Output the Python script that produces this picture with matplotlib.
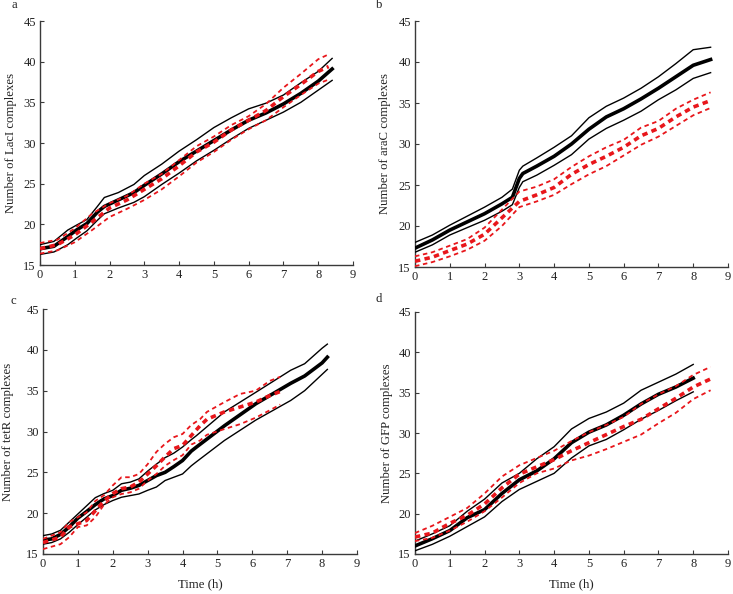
import numpy as np
import matplotlib
matplotlib.use("Agg")
import matplotlib.pyplot as plt

plt.rcParams['font.family'] = ['Liberation Serif', 'DejaVu Serif']

# ---------------- data ----------------
# Panel a: LacI
a_t_black = [0, 0.4, 0.8, 1.05, 1.35, 1.65, 1.85, 2.25, 2.7, 3.0, 3.5, 4, 4.5, 5, 5.5, 6, 6.5, 7, 7.5, 8, 8.4]
a_black_mean = [17.0, 17.3, 18.5, 19.3, 20.1, 21.5, 22.2, 23.0, 23.9, 24.8, 26.2, 27.7, 29.0, 30.3, 31.6, 32.8, 33.7, 34.8, 36.1, 37.6, 39.1]
a_black_up = [17.5, 17.9, 19.3, 19.9, 20.6, 22.2, 23.3, 23.9, 24.9, 26.0, 27.4, 29.0, 30.4, 31.9, 33.1, 34.2, 34.9, 35.9, 37.4, 38.8, 40.4]
a_black_lo = [16.3, 16.6, 17.5, 18.3, 19.2, 20.5, 21.3, 22.0, 22.7, 23.4, 24.9, 26.3, 27.8, 29.1, 30.5, 31.8, 32.8, 33.8, 35.0, 36.5, 37.7]
a_t_red = [0, 0.5, 1, 1.5, 2, 2.5, 3, 3.5, 4, 4.5, 5, 5.5, 6, 6.5, 7, 7.5, 8, 8.3]
a_red_mean = [17.0, 17.5, 18.7, 20.3, 22.0, 23.0, 24.3, 25.6, 27.2, 28.9, 30.1, 31.6, 32.8, 34.0, 35.7, 37.2, 38.8, 39.4]
a_red_up = [17.7, 18.1, 19.5, 21.3, 22.6, 23.5, 25.0, 26.2, 27.9, 29.6, 30.8, 32.2, 33.3, 34.8, 36.8, 38.5, 40.3, 40.9]
a_red_lo = [16.4, 16.8, 17.8, 19.3, 20.9, 21.9, 23.0, 24.3, 25.9, 27.6, 28.9, 30.4, 31.7, 32.8, 34.4, 35.9, 37.3, 37.8]

# Panel b: araC
b_t_black = [0, 0.5, 1, 1.5, 2, 2.5, 2.8, 3, 3.1, 3.5, 4, 4.5, 5, 5.5, 6, 6.5, 7, 7.5, 8, 8.5]
b_black_mean = [17.3, 18.3, 19.5, 20.5, 21.5, 22.7, 23.5, 25.8, 26.4, 27.3, 28.5, 30.0, 31.8, 33.3, 34.3, 35.5, 36.8, 38.2, 39.6, 40.3]
b_black_up = [18.0, 18.9, 20.1, 21.2, 22.3, 23.5, 24.5, 26.8, 27.3, 28.3, 29.6, 31.0, 33.2, 34.6, 35.6, 36.8, 38.2, 39.8, 41.5, 41.8]
b_black_lo = [16.8, 17.7, 18.9, 19.8, 20.7, 21.8, 22.6, 24.7, 25.4, 26.2, 27.4, 28.7, 30.6, 31.9, 32.9, 34.0, 35.4, 36.6, 38.0, 38.7]
b_t_red = [0, 0.5, 1, 1.5, 2, 2.5, 3, 3.5, 4, 4.5, 5, 5.5, 6, 6.5, 7, 7.5, 8, 8.5]
b_red_mean = [15.7, 16.2, 17.0, 17.8, 19.0, 21.0, 23.0, 23.8, 24.7, 26.3, 27.5, 28.5, 29.6, 31.0, 31.9, 33.3, 34.5, 35.3]
b_red_up = [16.3, 16.8, 17.6, 18.4, 19.8, 22.0, 24.2, 24.8, 25.7, 27.2, 28.5, 29.6, 30.5, 32.0, 32.8, 34.3, 35.4, 36.3]
b_red_lo = [15.1, 15.6, 16.3, 17.1, 18.2, 20.0, 22.3, 23.0, 23.8, 25.1, 26.3, 27.3, 28.6, 29.9, 30.9, 32.2, 33.5, 34.4]

# Panel c: tetR
c_t_black = [0, 0.25, 0.5, 0.75, 1, 1.25, 1.5, 1.75, 2, 2.25, 2.5, 2.75, 3, 3.25, 3.5, 3.75, 4, 4.25, 4.4,
             5.2, 6.1, 7.1, 7.5, 8.0, 8.15]
c_black_mean = [16.7, 16.85, 17.4, 18.3, 19.4, 20.2, 21.05, 21.75, 22.15, 22.8, 23.05, 23.4, 24.0, 24.6, 25.0,
                25.7, 26.45, 27.6, 28.1, 30.7, 33.4, 35.9, 36.8, 38.4, 39.1]
c_black_up = [17.25, 17.45, 17.9, 18.9, 19.9, 20.9, 21.9, 22.4, 22.8, 23.6, 23.8, 24.2, 25.15, 26.0, 26.8,
              27.35, 28.1, 29.0, 29.5, 32.4, 34.8, 37.5, 38.3, 40.2, 40.7]
c_black_lo = [16.2, 16.4, 16.85, 17.65, 18.6, 19.5, 20.4, 21.05, 21.55, 21.95, 22.15, 22.35, 22.8, 23.2, 24.0,
              24.4, 24.8, 25.8, 26.3, 28.9, 31.4, 33.8, 35.0, 37.0, 37.6]
c_t_red = [0, 0.5, 0.75, 1, 1.25, 1.5, 1.75, 2, 2.25, 2.5, 2.75, 3, 3.25, 3.5, 3.75, 4, 4.25, 4.5, 4.7,
           5.2, 5.65, 6.1, 6.5, 6.8]
c_red_mean = [16.4, 17.05, 18.3, 18.7, 19.1, 20.3, 21.5, 22.4, 23.0, 23.2, 23.8, 24.8, 25.8, 26.9, 27.9,
              28.3, 29.5, 30.7, 31.5, 32.4, 33.0, 33.6, 34.4, 34.9]
c_red_up = [16.85, 17.65, 18.9, 19.5, 20.1, 21.5, 22.2, 23.4, 24.4, 24.4, 24.8, 26.0, 27.5, 28.5, 29.3,
            29.7, 30.8, 31.5, 32.4, 33.6, 34.6, 35.0, 36.2, 36.7]
c_red_lo = [15.6, 16.2, 17.05, 18.3, 18.5, 19.5, 21.05, 21.95, 22.35, 22.55, 23.0, 24.0, 24.8, 25.8, 26.5,
            27.1, 28.4, 28.9, 29.6, 30.3, 30.9, 31.7, 32.6, 33.3]

# Panel d: GFP
d_t_black = [0, 0.5, 1, 1.5, 2, 2.5, 3, 3.5, 4, 4.5, 5, 5.5, 6, 6.5, 7, 7.5, 8]
d_black_mean = [16.0, 16.9, 17.9, 19.5, 20.5, 22.5, 24.2, 25.3, 26.8, 28.8, 30.1, 31.0, 32.2, 33.6, 34.8, 35.7, 36.8]
d_black_up = [16.6, 17.5, 18.5, 20.3, 21.8, 23.8, 25.0, 26.8, 28.3, 30.5, 31.8, 32.6, 33.7, 35.3, 36.3, 37.3, 38.5]
d_black_lo = [15.4, 16.2, 17.2, 18.4, 19.6, 21.5, 23.0, 24.0, 25.0, 26.9, 28.4, 29.2, 30.4, 31.7, 32.8, 34.0, 35.1]
d_t_red = [0, 0.5, 1, 1.5, 2, 2.5, 3, 3.5, 4, 4.5, 5, 5.5, 6, 6.5, 7, 7.5, 8, 8.5]
d_red_mean = [17.1, 17.6, 18.8, 19.8, 21.2, 23.2, 24.9, 25.8, 26.7, 27.8, 28.8, 29.8, 30.8, 31.7, 33.0, 34.3, 35.7, 36.7]
d_red_up = [17.6, 18.5, 19.6, 20.7, 22.5, 24.6, 26.0, 26.9, 27.8, 29.0, 30.1, 31.0, 32.0, 33.6, 34.8, 35.8, 37.2, 38.2]
d_red_lo = [16.6, 17.0, 17.9, 19.0, 20.3, 22.0, 23.8, 25.0, 25.6, 26.6, 27.2, 28.0, 28.9, 29.8, 31.2, 32.5, 34.2, 35.3]

panel_letters = ['a', 'b', 'c', 'd']
ylabels = ['Number of LacI complexes', 'Number of araC complexes',
           'Number of tetR complexes', 'Number of GFP complexes']
xlabel = 'Time (h)'
xticks = [0, 1, 2, 3, 4, 5, 6, 7, 8, 9]
yticks = [15, 20, 25, 30, 35, 40, 45]

panels = [
    (a_t_black, a_black_mean, a_black_up, a_black_lo, a_t_red, a_red_mean, a_red_up, a_red_lo),
    (b_t_black, b_black_mean, b_black_up, b_black_lo, b_t_red, b_red_mean, b_red_up, b_red_lo),
    (c_t_black, c_black_mean, c_black_up, c_black_lo, c_t_red, c_red_mean, c_red_up, c_red_lo),
    (d_t_black, d_black_mean, d_black_up, d_black_lo, d_t_red, d_red_mean, d_red_up, d_red_lo),
]

# ---------------- layout ----------------
W, H = 733, 594
fig = plt.figure(figsize=(W / 100, H / 100), dpi=100)
# axes boxes in pixels: (left, top, right, bottom)
boxes = [(40, 21, 353, 265), (415, 21, 728, 267), (43, 309, 357, 554), (415, 312, 728, 554)]
letter_pos = [(14, 5), (379, 5), (13, 301), (379, 299)]
ylabel_x = [11, 385, 8, 387]

red = '#e8161b'
spine_col = '#3a3a3a'
txt_col = '#222222'
fs_tick = 9.0
fs_lab = 9.2

for i, (tb, bm, bu, bl, tr, rm, ru, rl) in enumerate(panels):
    l, t, r, b = boxes[i]
    ax = fig.add_axes([l / W, 1 - b / H, (r - l) / W, (b - t) / H])
    ax.plot(tb, bu, color='black', lw=1.0, zorder=3)
    ax.plot(tb, bl, color='black', lw=1.0, zorder=3)
    ax.plot(tb, bm, color='black', lw=2.6, zorder=3)
    ax.plot(tr, ru, color=red, lw=1.3, ls=(0, (2.5, 2)), zorder=4)
    ax.plot(tr, rl, color=red, lw=1.3, ls=(0, (2.5, 2)), zorder=4)
    ax.plot(tr, rm, color=red, lw=2.6, ls=(0, (1.5, 1.2)), zorder=4)
    ax.set_xlim(0, 9)
    ax.set_ylim(15, 45)
    ax.set_xticks(xticks)
    ax.set_yticks(yticks)
    for s in ['top', 'right']:
        ax.spines[s].set_visible(False)
    for s in ['left', 'bottom']:
        ax.spines[s].set_color(spine_col)
        ax.spines[s].set_linewidth(1.0)
    ax.tick_params(direction='in', length=3, width=0.8, color=spine_col,
                   labelsize=fs_tick, labelcolor=txt_col, pad=3)
    ax.set_ylabel(ylabels[i], fontsize=fs_lab, color=txt_col)
    ax.yaxis.set_label_coords((ylabel_x[i] - l) / (r - l), 0.5)
    ax.yaxis.label.set_verticalalignment('center')
    if i >= 2:
        ax.set_xlabel(xlabel, fontsize=fs_lab, color=txt_col, labelpad=6)
    lx, ly = letter_pos[i]
    fig.text(lx / W, 1 - ly / H, panel_letters[i], fontsize=fs_lab, ha='center', va='center', color=txt_col)

fig.savefig('out.png', dpi=100)
